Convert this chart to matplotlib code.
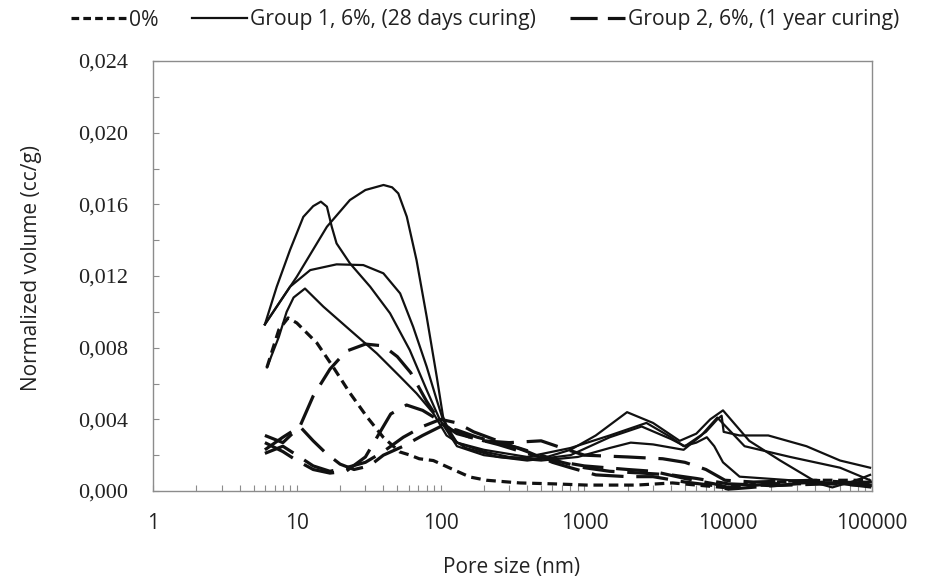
import matplotlib
matplotlib.use("Agg")
import matplotlib.pyplot as plt
from matplotlib.ticker import FixedLocator, FuncFormatter, MultipleLocator, LogLocator, NullFormatter
from matplotlib.lines import Line2D

# ---- data ----
# 0% (reference)
x_ref = [6.2, 7.5, 8.7, 10, 13.8, 17.9, 23.4, 30.8, 39.8, 52, 61, 71, 89, 116, 160, 209, 355, 605, 1040, 2300, 4100, 9200, 12000, 20500, 45600, 97000]
y_ref = [0.0069, 0.0090, 0.00966, 0.00938, 0.00826, 0.00692, 0.00547, 0.00413, 0.00301, 0.00218, 0.00201, 0.00180, 0.00170, 0.00128, 0.00078, 0.00060, 0.00045, 0.00040, 0.00033, 0.00033, 0.00045, 0.00020, 0.00028, 0.00050, 0.00060, 0.00060]

# Group 1, 6%, 28 days curing (solid)
x_g1a = [6.0, 7.25, 8.97, 11.1, 13.0, 14.7, 16.2, 17.5, 18.9, 23.4, 32.4, 44.5, 61, 80, 99, 130, 200, 400, 800, 1500, 2500, 4000, 5000, 7000, 8400, 9000, 9300, 12000, 19000, 35000, 60000, 97000]
y_g1a = [0.0093, 0.0114, 0.01345, 0.0153, 0.0159, 0.01615, 0.01587, 0.01475, 0.01382, 0.01271, 0.0114, 0.00992, 0.00787, 0.00564, 0.00396, 0.0025, 0.0020, 0.0017, 0.0020, 0.0030, 0.0036, 0.0029, 0.0025, 0.0033, 0.0040, 0.0042, 0.0033, 0.0031, 0.0031, 0.0025, 0.0017, 0.0013]

x_g1b = [6.0, 10.0, 16.2, 23.4, 30, 40.1, 46, 50.8, 58.2, 68, 80, 94, 104, 116, 130, 200, 300, 500, 800, 1200, 1980, 3000, 4600, 6000, 7500, 9200, 14000, 23000, 43000, 53000, 78000, 97000]
y_g1b = [0.0093, 0.01196, 0.01475, 0.01624, 0.0168, 0.01708, 0.01695, 0.01661, 0.01531, 0.01289, 0.00973, 0.00638, 0.00415, 0.0032, 0.0027, 0.0022, 0.0019, 0.0018, 0.0023, 0.0031, 0.0044, 0.0038, 0.0028, 0.0032, 0.0040, 0.0045, 0.0028, 0.0017, 0.0004, 0.0002, 0.0006, 0.0009]

x_g1c = [6.0, 8.97, 12.4, 18.9, 29, 40, 52.3, 64.4, 80, 94, 104, 130, 200, 400, 800, 1500, 2700, 4000, 4900, 6000, 7100, 8000, 9200, 12000, 27000, 60000, 97000]
y_g1c = [0.0093, 0.0114, 0.01233, 0.01265, 0.01261, 0.01215, 0.01103, 0.00917, 0.00694, 0.00508, 0.00396, 0.0027, 0.0023, 0.0019, 0.0024, 0.0031, 0.0038, 0.0030, 0.0025, 0.0027, 0.0030, 0.0025, 0.0016, 0.0008, 0.0006, 0.0004, 0.0002]

x_g1d = [6.2, 7.5, 8.5, 9.5, 11.4, 15.3, 23.4, 36, 52.3, 68, 89, 110, 150, 250, 500, 900, 1500, 2100, 3000, 4900, 6500, 8400, 13000, 27000, 60000, 97000]
y_g1d = [0.0069, 0.0086, 0.0100, 0.0108, 0.0113, 0.01029, 0.00899, 0.00768, 0.00638, 0.00545, 0.00434, 0.0031, 0.0024, 0.0019, 0.0017, 0.0019, 0.0024, 0.0027, 0.0026, 0.0023, 0.0031, 0.0041, 0.0025, 0.0019, 0.0013, 0.0006]

# Group 2, 6%, 1 year curing (long dash)
x_g2a = [6, 8, 10.5, 13, 17, 22, 30, 40, 50, 62, 80, 100, 130, 200, 300, 500, 700, 1000, 2000, 3500, 5000, 7000, 9500, 15000, 40000, 100000]
y_g2a = [0.0031, 0.0027, 0.0036, 0.0053, 0.0068, 0.0078, 0.0082, 0.0081, 0.0075, 0.0066, 0.0050, 0.0038, 0.0032, 0.0028, 0.0027, 0.0028, 0.0024, 0.0020, 0.0019, 0.0018, 0.0016, 0.0012, 0.0006, 0.0005, 0.0006, 0.0004]

x_g2b = [6, 8, 10.5, 13, 16, 20, 25, 32, 40, 55, 75, 100, 130, 180, 250, 350, 500, 700, 1000, 1500, 2500, 4000, 6000, 10000, 20000, 50000, 100000]
y_g2b = [0.0023, 0.0030, 0.0036, 0.0028, 0.0021, 0.0015, 0.0012, 0.0014, 0.0020, 0.0025, 0.0031, 0.0036, 0.0034, 0.0030, 0.0027, 0.0024, 0.0020, 0.0016, 0.0013, 0.0011, 0.0010, 0.0009, 0.0007, 0.0004, 0.0003, 0.0004, 0.0003]

x_g2c = [6, 8, 10, 13, 17, 22, 30, 38, 45, 58, 75, 95, 120, 160, 250, 400, 600, 1000, 2000, 3000, 5000, 8000, 10000, 20000, 50000, 100000]
y_g2c = [0.0027, 0.0022, 0.0017, 0.0012, 0.0010, 0.0011, 0.0019, 0.0033, 0.0043, 0.0048, 0.0045, 0.0040, 0.0034, 0.0030, 0.0026, 0.0021, 0.0017, 0.0014, 0.0012, 0.0011, 0.0007, 0.0004, 0.0002, 0.0004, 0.0005, 0.0004]

x_g2d = [6, 8, 10, 13, 17, 22, 30, 40, 55, 75, 100, 130, 170, 250, 400, 600, 800, 1200, 2000, 3000, 5000, 8000, 10000, 30000, 100000]
y_g2d = [0.0021, 0.0025, 0.0020, 0.0014, 0.0011, 0.0013, 0.0016, 0.0022, 0.0030, 0.0036, 0.0040, 0.0038, 0.0033, 0.0028, 0.0022, 0.0016, 0.0013, 0.0009, 0.0008, 0.0008, 0.0005, 0.0003, 0.0001, 0.0004, 0.0005]

group1 = [(x_g1a, y_g1a), (x_g1b, y_g1b), (x_g1c, y_g1c), (x_g1d, y_g1d)]
group2 = [(x_g2a, y_g2a), (x_g2b, y_g2b), (x_g2c, y_g2c), (x_g2d, y_g2d)]

x_ticks = [1, 10, 100, 1000, 10000, 100000]
x_tick_labels = ["1", "10", "100", "1000", "10000", "100000"]
y_ticks = [0.000, 0.004, 0.008, 0.012, 0.016, 0.020, 0.024]

legend_labels = ["0%", "Group 1, 6%, (28 days curing)", "Group 2, 6%, (1 year curing)"]

# ---- figure ----
fig = plt.figure(figsize=(9.26, 5.83), dpi=100)
ax = fig.add_axes([153/926, 1-491/583, (872-153)/926, (491-61)/583])

short_dash = (0, (3.0, 1.8))
long_dash = (0, (10, 4))
col = "#111111"

ax.plot(x_ref, y_ref, color=col, lw=2.3, linestyle=short_dash, solid_capstyle="butt")
for xs, ys in group1:
    ax.plot(xs, ys, color=col, lw=1.6, linestyle="-", solid_joinstyle="round")
for xs, ys in group2:
    ax.plot(xs, ys, color=col, lw=2.3, linestyle=long_dash)

ax.set_xscale("log")
ax.set_xlim(1, 100000)
ax.set_ylim(0, 0.024)

ax.xaxis.set_major_locator(FixedLocator(x_ticks))
ax.xaxis.set_major_formatter(FuncFormatter(lambda v, p: x_tick_labels[x_ticks.index(round(v))] if round(v) in x_ticks else ""))
ax.xaxis.set_minor_locator(LogLocator(base=10, subs=range(2, 10)))
ax.xaxis.set_minor_formatter(NullFormatter())

ax.yaxis.set_major_locator(FixedLocator(y_ticks))
ax.yaxis.set_minor_locator(MultipleLocator(0.002))
ax.yaxis.set_major_formatter(FuncFormatter(lambda v, p: f"{v:.3f}".replace(".", ",")))

for s in ax.spines.values():
    s.set_color("#8c8c8c")
    s.set_linewidth(1.0)

ax.tick_params(axis="both", which="both", direction="in", color="#8c8c8c", width=0.8)
ax.tick_params(axis="x", which="both", length=4, top=False, pad=16)
ax.tick_params(axis="y", which="both", length=4, right=False, pad=18)
ax.tick_params(axis="x", which="major", labelsize=15, labelcolor="#222222")
ax.tick_params(axis="y", which="major", labelsize=16, labelcolor="#222222")
for lab in ax.get_yticklabels():
    lab.set_fontfamily("Liberation Serif")
for lab in ax.get_xticklabels():
    lab.set_fontfamily("Open Sans")

fig.text(512/926, 1-567/583, "Pore size (nm)", ha="center", va="center",
         fontsize=15, family="Open Sans", color="#222222")
fig.text(31/926, 1-268/583, "Normalized volume (cc/g)", ha="center", va="center",
         rotation=90, fontsize=15, family="Open Sans", color="#222222")

handles = [
    Line2D([], [], color=col, lw=2.3, linestyle=(0, (2.4, 1.3))),
    Line2D([], [], color=col, lw=1.6, linestyle="-"),
    Line2D([], [], color=col, lw=2.3, linestyle=(0, (8.5, 3.2))),
]
leg = fig.legend(handles, legend_labels, loc="center", bbox_to_anchor=(485/926, 1-20/583),
                 ncol=3, frameon=False, handlelength=2.6, handletextpad=0.15, columnspacing=1.6,
                 prop={"family": "Open Sans", "size": 15.2})
for t in leg.get_texts():
    t.set_color("#222222")

fig.savefig("out.png", dpi=100)
